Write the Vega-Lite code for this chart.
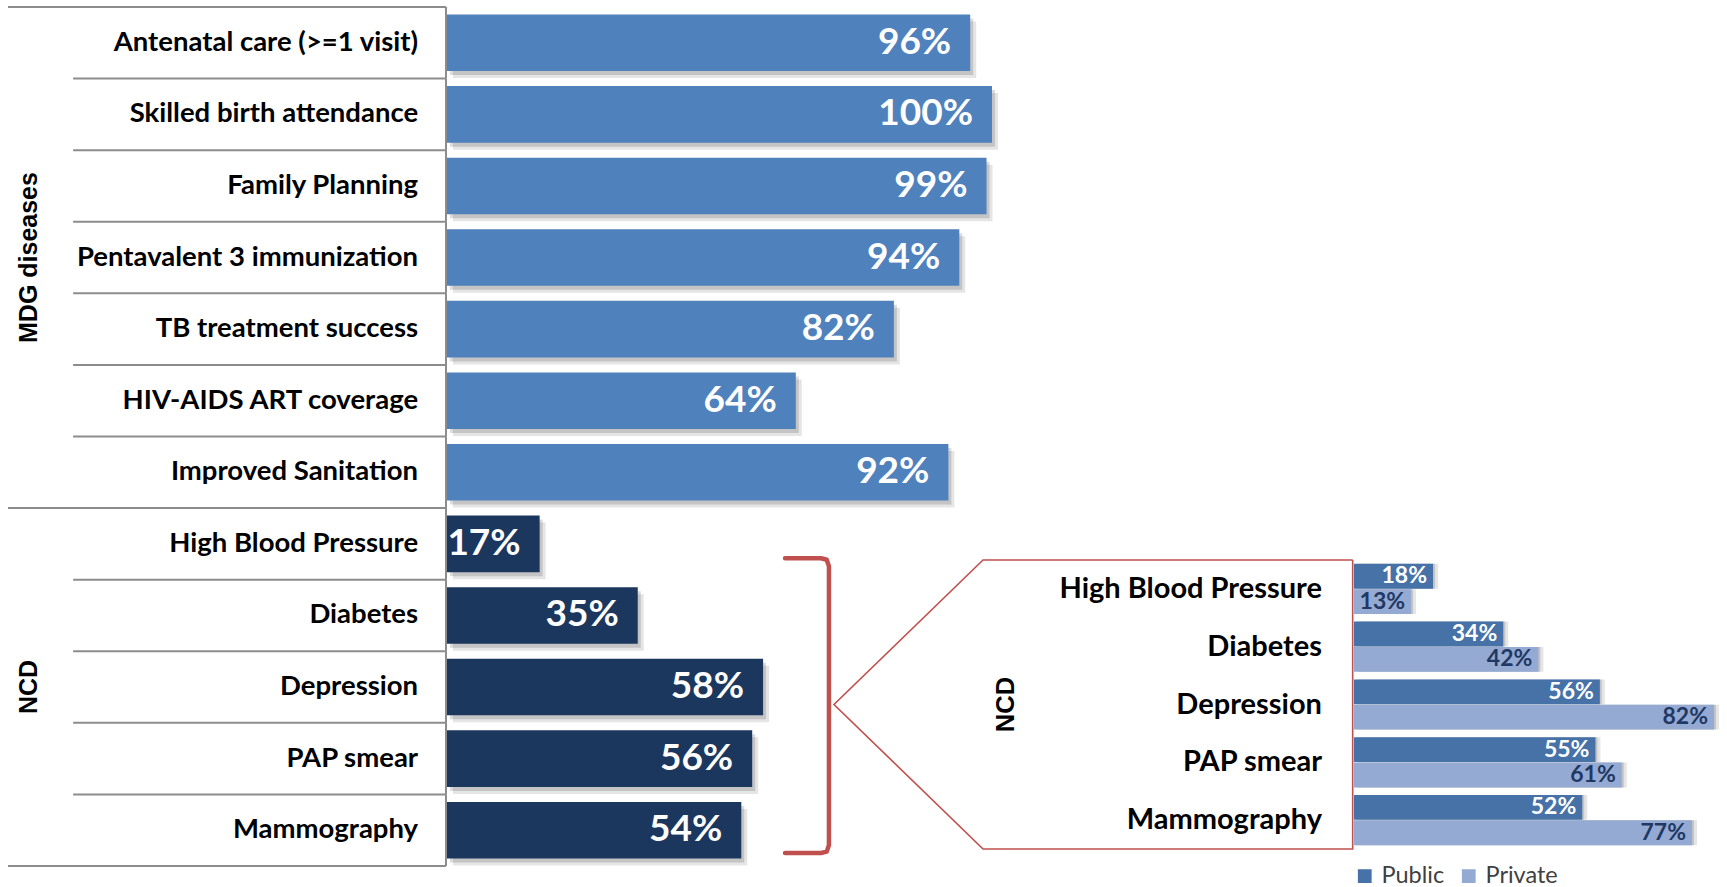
{
  "$schema": "https://vega.github.io/schema/vega-lite/v6.json",
  "width": 1727,
  "height": 887,
  "autosize": "none",
  "padding": 0,
  "background": "#ffffff",
  "config": {"view": {"stroke": null}, "font": "Lato"},
  "datasets": {
    "coverage": [
      {"item": "Antenatal care (>=1 visit)", "group": "MDG diseases", "value": 0.96},
      {"item": "Skilled birth attendance", "group": "MDG diseases", "value": 1.0},
      {"item": "Family Planning", "group": "MDG diseases", "value": 0.99},
      {"item": "Pentavalent 3 immunization", "group": "MDG diseases", "value": 0.94},
      {"item": "TB treatment success", "group": "MDG diseases", "value": 0.82},
      {"item": "HIV-AIDS ART coverage", "group": "MDG diseases", "value": 0.64},
      {"item": "Improved Sanitation", "group": "MDG diseases", "value": 0.92},
      {"item": "High Blood Pressure", "group": "NCD", "value": 0.17},
      {"item": "Diabetes", "group": "NCD", "value": 0.35},
      {"item": "Depression", "group": "NCD", "value": 0.58},
      {"item": "PAP smear", "group": "NCD", "value": 0.56},
      {"item": "Mammography", "group": "NCD", "value": 0.54}
    ],
    "ncd": [
      {"item": "High Blood Pressure", "group": "NCD", "sector": "Public", "value": 0.18},
      {"item": "High Blood Pressure", "group": "NCD", "sector": "Private", "value": 0.13},
      {"item": "Diabetes", "group": "NCD", "sector": "Public", "value": 0.34},
      {"item": "Diabetes", "group": "NCD", "sector": "Private", "value": 0.42},
      {"item": "Depression", "group": "NCD", "sector": "Public", "value": 0.56},
      {"item": "Depression", "group": "NCD", "sector": "Private", "value": 0.82},
      {"item": "PAP smear", "group": "NCD", "sector": "Public", "value": 0.55},
      {"item": "PAP smear", "group": "NCD", "sector": "Private", "value": 0.61},
      {"item": "Mammography", "group": "NCD", "sector": "Public", "value": 0.52},
      {"item": "Mammography", "group": "NCD", "sector": "Private", "value": 0.77}
    ],
    "callout": [
      {"part": "box", "step": 0, "x": -0.003, "y": 0},
      {"part": "box", "step": 1, "x": -0.845, "y": 0},
      {"part": "box", "step": 2, "x": -1.1845, "y": 2.5},
      {"part": "box", "step": 3, "x": -0.845, "y": 5},
      {"part": "box", "step": 4, "x": -0.003, "y": 5},
      {"part": "box", "step": 5, "x": -0.003, "y": 0},
      {"part": "bracket", "step": 0, "x": -1.296, "y": -0.03},
      {"part": "bracket", "step": 1, "x": -1.214, "y": -0.03},
      {"part": "bracket", "step": 2, "x": -1.201, "y": -0.005},
      {"part": "bracket", "step": 3, "x": -1.196, "y": 0.11},
      {"part": "bracket", "step": 4, "x": -1.196, "y": 4.93},
      {"part": "bracket", "step": 5, "x": -1.201, "y": 5.045},
      {"part": "bracket", "step": 6, "x": -1.214, "y": 5.07},
      {"part": "bracket", "step": 7, "x": -1.296, "y": 5.07}
    ]
  },
  "layer": [
    {
      "data": {"name": "coverage"},
      "encoding": {
        "y": {
          "field": "item", "type": "nominal", "sort": null, "axis": null,
          "scale": {
            "domain": ["Antenatal care (>=1 visit)", "Skilled birth attendance", "Family Planning", "Pentavalent 3 immunization", "TB treatment success", "HIV-AIDS ART coverage", "Improved Sanitation", "High Blood Pressure", "Diabetes", "Depression", "PAP smear", "Mammography"],
            "range": [7, 866], "paddingInner": 0, "paddingOuter": 0
          }
        },
        "x": {"field": "value", "type": "quantitative", "axis": null, "scale": {"domain": [0, 1], "range": [447, 992], "nice": false}}
      },
      "layer": [
        {
          "transform": [{"window": [{"op": "row_number", "as": "pos"}], "groupby": ["group"]}, {"filter": "datum.pos > 1"}],
          "mark": {"type": "rule", "color": "#8c8c8c", "strokeWidth": 2},
          "encoding": {
            "y": {"field": "item", "type": "nominal", "sort": null, "axis": null, "bandPosition": 0},
            "x": {"datum": -0.686, "type": "quantitative", "axis": null},
            "x2": {"datum": -0.002}
          }
        },
        {
          "transform": [{"window": [{"op": "row_number", "as": "pos"}], "groupby": ["group"]}, {"filter": "datum.pos == 1"}],
          "mark": {"type": "rule", "color": "#8c8c8c", "strokeWidth": 2},
          "encoding": {
            "y": {"field": "item", "type": "nominal", "sort": null, "axis": null, "bandPosition": 0},
            "x": {"datum": -0.8055, "type": "quantitative", "axis": null},
            "x2": {"datum": -0.002}
          }
        },
        {
          "transform": [{"window": [{"op": "row_number", "as": "pos"}]}, {"joinaggregate": [{"op": "count", "as": "n"}]}, {"filter": "datum.pos == datum.n"}],
          "mark": {"type": "rule", "color": "#8c8c8c", "strokeWidth": 2},
          "encoding": {
            "y": {"field": "item", "type": "nominal", "sort": null, "axis": null, "bandPosition": 1},
            "x": {"datum": -0.8055, "type": "quantitative", "axis": null},
            "x2": {"datum": -0.002}
          }
        },
        {
          "mark": {"type": "rect", "color": "#8c8c8c"},
          "encoding": {
            "x": {"datum": -0.0037, "type": "quantitative", "axis": null},
            "x2": {"datum": 0}
          }
        },
        {
          "mark": {"type": "bar", "height": {"band": 0.79}, "color": "#000000", "opacity": 0.1, "xOffset": 6, "x2Offset": 6, "yOffset": 7, "y2Offset": 7}
        },
        {
          "mark": {"type": "bar", "height": {"band": 0.79}, "color": "#000000", "opacity": 0.14, "xOffset": 3, "x2Offset": 3, "yOffset": 4, "y2Offset": 4}
        },
        {
          "mark": {"type": "bar", "height": {"band": 0.79}},
          "encoding": {
            "color": {"field": "group", "type": "nominal", "legend": null, "scale": {"domain": ["MDG diseases", "NCD"], "range": ["#4f81bd", "#1c375e"]}}
          }
        },
        {
          "mark": {"type": "text", "align": "right", "baseline": "middle", "dx": -19, "fontSize": 37, "fontWeight": "bold", "color": "#ffffff"},
          "encoding": {"text": {"field": "value", "type": "quantitative", "format": ".0%"}}
        },
        {
          "mark": {"type": "text", "align": "right", "baseline": "middle", "fontSize": 27.5, "fontWeight": "bold", "color": "#000000"},
          "encoding": {
            "x": {"datum": -0.053, "type": "quantitative", "axis": null},
            "text": {"field": "item", "type": "nominal"}
          }
        },
        {
          "transform": [
            {"window": [{"op": "row_number", "as": "pos"}], "groupby": ["group"]},
            {"joinaggregate": [{"op": "count", "as": "n"}], "groupby": ["group"]},
            {"filter": "datum.pos == ceil(datum.n / 2)"}
          ],
          "mark": {"type": "text", "align": "center", "baseline": "middle", "angle": 270, "font": "Liberation Sans", "fontSize": 25, "fontWeight": "bold", "color": "#000000"},
          "encoding": {
            "x": {"datum": -0.767, "type": "quantitative", "axis": null},
            "text": {"field": "group", "type": "nominal"}
          }
        }
      ]
    },
    {
      "layer": [
        {
          "data": {"name": "callout"},
          "transform": [{"filter": "datum.part == 'box'"}],
          "mark": {"type": "line", "color": "#c0504d", "strokeWidth": 1.6, "strokeJoin": "miter"},
          "encoding": {
            "x": {"field": "x", "type": "quantitative", "axis": null, "scale": {"domain": [0, 1], "range": [1354, 1793], "nice": false}},
            "y": {"field": "y", "type": "quantitative", "axis": null, "scale": {"domain": [0, 5], "range": [560, 849], "nice": false, "zero": false}},
            "order": {"field": "step", "type": "quantitative"}
          }
        },
        {
          "data": {"name": "callout"},
          "transform": [{"filter": "datum.part == 'bracket'"}],
          "mark": {"type": "line", "color": "#c0504d", "strokeWidth": 4.5, "strokeJoin": "round", "strokeCap": "round"},
          "encoding": {
            "x": {"field": "x", "type": "quantitative", "axis": null, "scale": {"domain": [0, 1], "range": [1354, 1793], "nice": false}},
            "y": {"field": "y", "type": "quantitative", "axis": null, "scale": {"domain": [0, 5], "range": [560, 849], "nice": false, "zero": false}},
            "order": {"field": "step", "type": "quantitative"}
          }
        },
        {
          "data": {"name": "ncd"},
          "encoding": {
            "y": {
              "field": "item", "type": "nominal", "sort": null, "axis": null,
              "scale": {"domain": ["High Blood Pressure", "Diabetes", "Depression", "PAP smear", "Mammography"], "range": [560, 849], "paddingInner": 0, "paddingOuter": 0}
            },
            "x": {"field": "value", "type": "quantitative", "axis": null, "scale": {"domain": [0, 1], "range": [1354, 1793], "nice": false}}
          },
          "layer": [
            {
              "mark": {"type": "bar", "color": "#000000", "opacity": 0.1, "xOffset": 5, "x2Offset": 5, "yOffset": 5, "y2Offset": 5},
              "encoding": {"yOffset": {"field": "sector", "type": "nominal", "sort": null, "scale": {"domain": ["Public", "Private"], "paddingInner": 0.02, "paddingOuter": 0.15}}}
            },
            {
              "mark": {"type": "bar", "color": "#000000", "opacity": 0.14, "xOffset": 2, "x2Offset": 2, "yOffset": 3, "y2Offset": 3},
              "encoding": {"yOffset": {"field": "sector", "type": "nominal", "sort": null, "scale": {"domain": ["Public", "Private"], "paddingInner": 0.02, "paddingOuter": 0.15}}}
            },
            {
              "mark": {"type": "bar"},
              "encoding": {
                "yOffset": {"field": "sector", "type": "nominal", "sort": null, "scale": {"domain": ["Public", "Private"], "paddingInner": 0.02, "paddingOuter": 0.15}},
                "color": {
                  "field": "sector", "type": "nominal", "sort": null,
                  "scale": {"domain": ["Public", "Private"], "range": ["#4672a8", "#95aad3"]},
                  "legend": {
                    "orient": "none", "legendX": 1353, "legendY": 864, "direction": "horizontal", "title": null,
                    "symbolType": "square", "symbolSize": 190, "symbolStrokeWidth": 0, "symbolOpacity": 1,
                    "labelFont": "Lato", "labelFontSize": 23.5, "labelColor": "#404040", "labelOffset": 5, "columnPadding": 12
                  }
                }
              }
            },
            {
              "mark": {"type": "text", "align": "right", "baseline": "middle", "dx": -6, "fontSize": 23, "fontWeight": "bold"},
              "encoding": {
                "yOffset": {"field": "sector", "type": "nominal", "sort": null, "scale": {"domain": ["Public", "Private"], "paddingInner": 0.02, "paddingOuter": 0.15}},
                "text": {"field": "value", "type": "quantitative", "format": ".0%"},
                "color": {"condition": {"test": "datum.sector == 'Public'", "value": "#ffffff"}, "value": "#1f3864"}
              }
            },
            {
              "transform": [{"filter": "datum.sector == 'Public'"}],
              "mark": {"type": "text", "align": "right", "baseline": "middle", "fontSize": 29, "fontWeight": "bold", "color": "#000000"},
              "encoding": {
                "x": {"datum": -0.073, "type": "quantitative", "axis": null},
                "text": {"field": "item", "type": "nominal"}
              }
            },
            {
              "transform": [
                {"filter": "datum.sector == 'Public'"},
                {"window": [{"op": "row_number", "as": "pos"}], "groupby": ["group"]},
                {"joinaggregate": [{"op": "count", "as": "n"}], "groupby": ["group"]},
                {"filter": "datum.pos == ceil(datum.n / 2)"}
              ],
              "mark": {"type": "text", "align": "center", "baseline": "middle", "angle": 270, "font": "Liberation Sans", "fontSize": 25.5, "fontWeight": "bold", "color": "#000000"},
              "encoding": {
                "x": {"datum": -0.793, "type": "quantitative", "axis": null},
                "text": {"field": "group", "type": "nominal"}
              }
            }
          ]
        }
      ],
      "resolve": {"scale": {"y": "independent"}}
    }
  ],
  "resolve": {"scale": {"x": "independent", "y": "independent", "color": "independent"}}
}
